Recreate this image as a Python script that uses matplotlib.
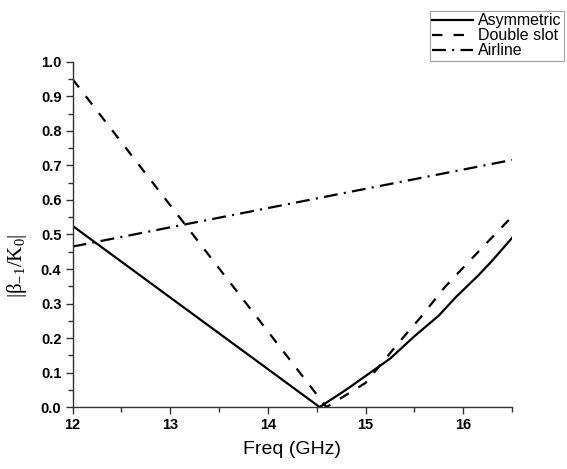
import matplotlib
matplotlib.use("Agg")
import matplotlib.pyplot as plt
from matplotlib.ticker import MultipleLocator

plt.rcParams['font.family'] = ['Liberation Sans', 'DejaVu Sans']
plt.rcParams['mathtext.fontset'] = 'custom'
plt.rcParams['mathtext.rm'] = 'Liberation Serif'
plt.rcParams['mathtext.it'] = 'Liberation Serif'
plt.rcParams['mathtext.default'] = 'rm'
plt.rcParams['lines.scale_dashes'] = False

# Asymmetric structure: linear drop to the null, then a slowly curving rise
asym_freq = [12.0, 14.53, 14.8, 15.0, 15.25, 15.5, 15.75, 15.93, 16.15, 16.3, 16.5]
asym_beta = [0.525, 0.0, 0.05, 0.09, 0.14, 0.205, 0.265, 0.32, 0.38, 0.425, 0.49]

# Double slot
dbl_freq = [12.0, 14.6, 14.8, 15.0, 15.35, 15.57, 15.81, 16.02, 16.27, 16.5]
dbl_beta = [0.95, 0.0, 0.035, 0.07, 0.19, 0.262, 0.347, 0.41, 0.484, 0.552]

# Airline
air_freq = [12.0, 16.5]
air_beta = [0.465, 0.716]

fig = plt.figure(figsize=(5.67, 4.69), dpi=100)
ax = fig.add_axes([0.128, 0.132, 0.775, 0.736])

ax.plot(asym_freq, asym_beta, color='black', lw=1.6, label='Asymmetric')
ax.plot(dbl_freq, dbl_beta, color='black', lw=1.6, dashes=(7.5, 8), label='Double slot')
ax.plot(air_freq, air_beta, color='black', lw=1.6, dashes=(10, 4.5, 1.5, 4.5), label='Airline')

ax.set_xlim(12, 16.5)
ax.set_ylim(0, 1.0)
ax.xaxis.set_major_locator(MultipleLocator(1))
ax.xaxis.set_minor_locator(MultipleLocator(0.5))
ax.yaxis.set_major_locator(MultipleLocator(0.1))
ax.yaxis.set_minor_locator(MultipleLocator(0.05))

for s in ['top', 'right']:
    ax.spines[s].set_visible(False)
for s in ['left', 'bottom']:
    ax.spines[s].set_color('#333333')
    ax.spines[s].set_linewidth(1.0)

ax.tick_params(which='major', direction='out', length=5, width=1, color='#333333',
               labelsize=10.5, pad=3)
ax.tick_params(which='minor', direction='out', length=3.5, width=1, color='#333333')
for lbl in ax.get_xticklabels() + ax.get_yticklabels():
    lbl.set_fontweight('bold')

ax.set_xlabel('Freq (GHz)', fontsize=14, labelpad=6)
ax.set_ylabel(r'$|\beta_{-1}/K_0|$', fontsize=15, labelpad=4)
ax.yaxis.set_label_coords(-0.1, 0.41)

leg = fig.legend(loc='upper left', bbox_to_anchor=(430 / 567, 1 - 11 / 469),
                 fontsize=11.5, frameon=True, fancybox=False, handlelength=2.55,
                 handletextpad=0.3, labelspacing=0.0, borderpad=0.15,
                 borderaxespad=0)
leg.get_frame().set_edgecolor('#888888')
leg.get_frame().set_linewidth(0.8)

fig.savefig('out.png', dpi=100)
